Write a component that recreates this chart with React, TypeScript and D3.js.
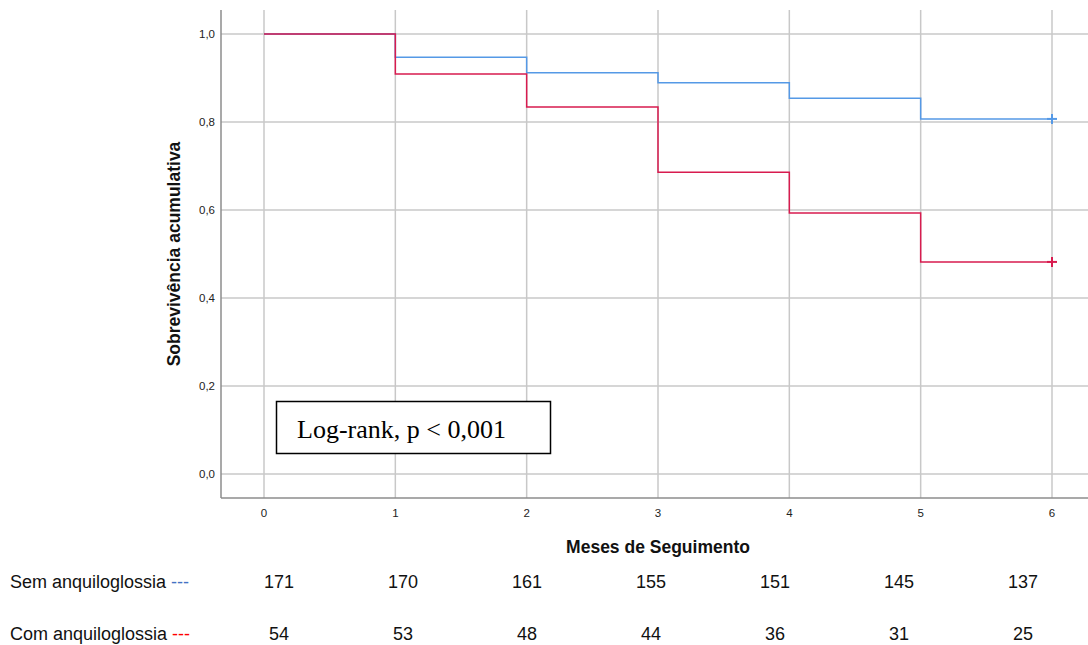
import React from "react";
import * as d3 from "d3";

const months = [0, 1, 2, 3, 4, 5, 6];
const yTicks = [0, 0.2, 0.4, 0.6, 0.8, 1.0];
const semSurv = [1.0, 0.947, 0.912, 0.889, 0.854, 0.807, 0.807];
const comSurv = [1.0, 0.909, 0.834, 0.686, 0.593, 0.482, 0.482];
const semRisk = [171, 170, 161, 155, 151, 145, 137];
const comRisk = [54, 53, 48, 44, 36, 31, 25];

const W = 1088, H = 645;
const x = d3.scaleLinear().domain([0, 6]).range([264, 1052]);
const y = d3.scaleLinear().domain([0, 1]).range([474, 34]);
const riskX = d3.scaleLinear().domain([0, 6]).range([279, 1023]);

const fmt = (v: number) => v.toFixed(1).replace(".", ",");

function stepPath(vals: number[]) {
  const pts: [number, number][] = months.map((m, i) => [m, vals[i]]);
  const line = d3.line<[number, number]>().x(d => x(d[0])).y(d => y(d[1])).curve(d3.curveStepAfter);
  return line(pts) || "";
}

export default function App() {
  const blue = "#5599e6";
  const red = "#d81b4f";
  const censor = (vals: number[], c: string) => {
    const cx = x(6), cy = y(vals[6]);
    return (
      <g stroke={c} strokeWidth={2}>
        <line x1={cx - 5} x2={cx + 5} y1={cy} y2={cy} />
        <line x1={cx} x2={cx} y1={cy - 5} y2={cy + 5} />
      </g>
    );
  };
  return (
    <svg width={W} height={H} style={{ position: "absolute", left: 0, top: 0, fontFamily: "Arial, 'Liberation Sans', sans-serif" }}>
      <rect width={W} height={H} fill="#fff" />
      {yTicks.map(t => (
        <line key={"h" + t} x1={221} x2={1088} y1={y(t)} y2={y(t)} stroke="#c8c8c8" strokeWidth={1.5} />
      ))}
      {months.map(m => (
        <line key={"v" + m} x1={x(m)} x2={x(m)} y1={10} y2={498} stroke="#c8c8c8" strokeWidth={1.5} />
      ))}
      <line x1={221} x2={221} y1={10} y2={498} stroke="#8c8c8c" strokeWidth={1.5} />
      <line x1={221} x2={1088} y1={498} y2={498} stroke="#8c8c8c" strokeWidth={1.5} />
      {yTicks.map(t => (
        <text key={"yt" + t} x={215} y={y(t) + 4} textAnchor="end" fontSize={11.5} fill="#222">{fmt(t)}</text>
      ))}
      {months.map(m => (
        <text key={"xt" + m} x={x(m)} y={517} textAnchor="middle" fontSize={11.5} fill="#222">{m}</text>
      ))}
      <path d={stepPath(semSurv)} fill="none" stroke={blue} strokeWidth={1.5} />
      <path d={stepPath(comSurv)} fill="none" stroke={red} strokeWidth={1.5} />
      {censor(semSurv, blue)}
      {censor(comSurv, red)}
      <text transform="translate(180,254) rotate(-90)" textAnchor="middle" fontSize={17.5} fontWeight="bold" fill="#111">Sobrevivência acumulativa</text>
      <text x={658} y={553} textAnchor="middle" fontSize={17.5} fontWeight="bold" fill="#111">Meses de Seguimento</text>
      <rect x={276.5} y={401.5} width={274} height={52} fill="#fff" stroke="#000" strokeWidth={1.5} />
      <text x={297} y={438} fontFamily="'Liberation Serif', 'Times New Roman', serif" fontSize={26} fill="#000">Log-rank, p &lt; 0,001</text>
      <text x={10} y={588} fontSize={18} fill="#111">Sem anquiloglossia <tspan fill="#4472c4">---</tspan></text>
      <text x={10} y={640} fontSize={18} fill="#111">Com anquiloglossia <tspan fill="#ff0000">---</tspan></text>
      {semRisk.map((v, i) => (
        <text key={"sr" + i} x={riskX(months[i])} y={588} textAnchor="middle" fontSize={18} fill="#111">{v}</text>
      ))}
      {comRisk.map((v, i) => (
        <text key={"cr" + i} x={riskX(months[i])} y={640} textAnchor="middle" fontSize={18} fill="#111">{v}</text>
      ))}
    </svg>
  );
}
